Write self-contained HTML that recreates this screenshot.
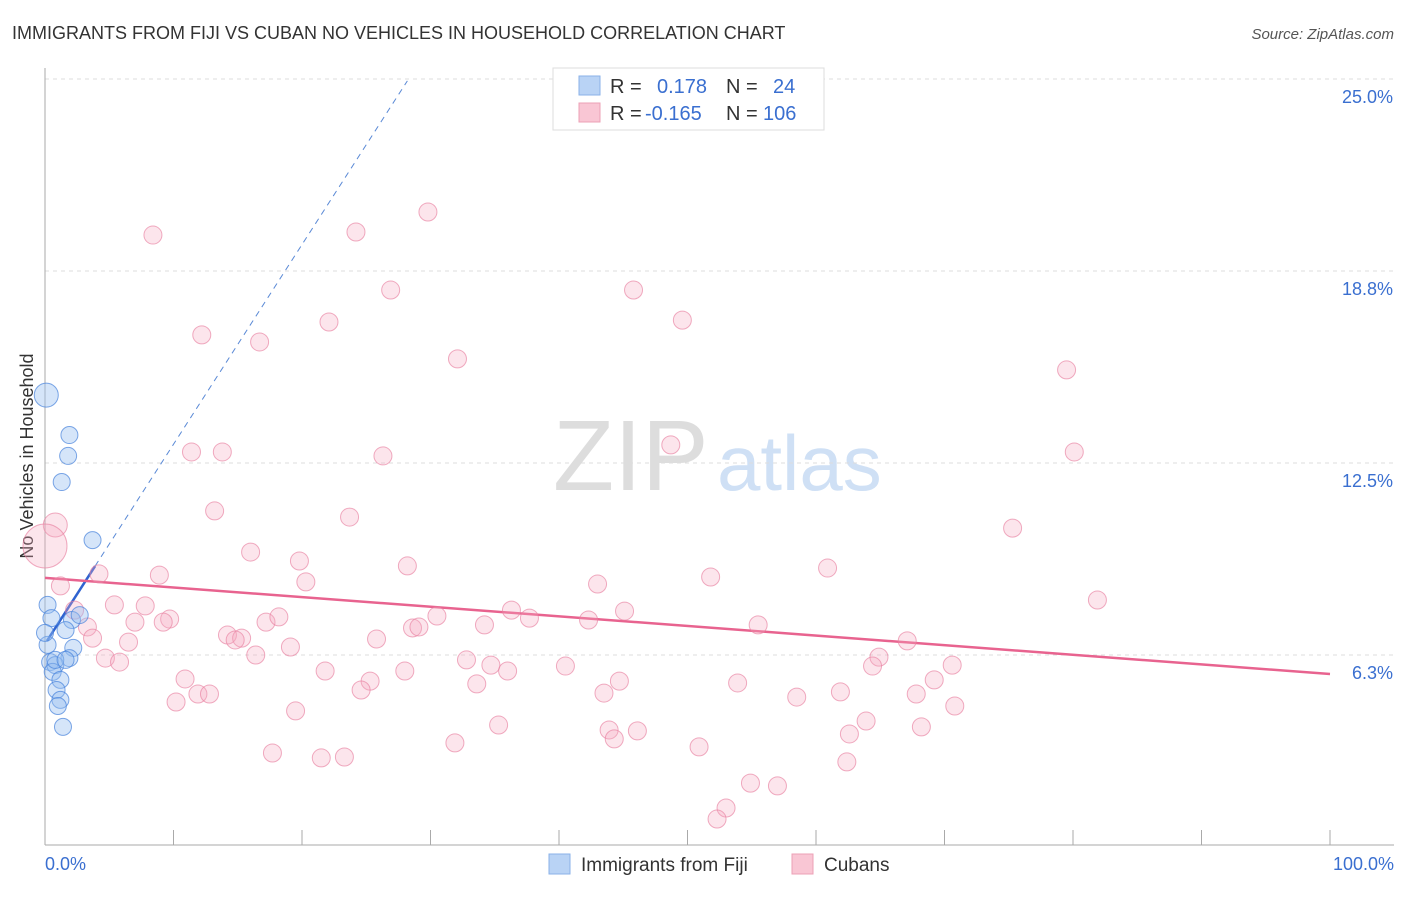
<!DOCTYPE html>
<html><head><meta charset="utf-8"><style>
body{margin:0;background:#fff;font-family:"Liberation Sans",sans-serif}
svg text{font-family:"Liberation Sans",sans-serif}
</style></head><body>
<svg id="chart" width="1406" height="892" xmlns="http://www.w3.org/2000/svg">
<text x="12" y="39" font-size="18" fill="#333">IMMIGRANTS FROM FIJI VS CUBAN NO VEHICLES IN HOUSEHOLD CORRELATION CHART</text>
<text x="1394" y="39" font-size="15" fill="#555" font-style="italic" text-anchor="end">Source: ZipAtlas.com</text>
<g>
<text x="553" y="490" font-size="100" font-family="Liberation Serif,serif" fill="#ddd">ZIP</text>
<text x="717" y="490" font-size="78" fill="#cfe0f5">atlas</text>
</g>
<g id="grid"></g>
<g id="axes"></g>
<text transform="translate(33,456) rotate(-90)" font-size="18" fill="#333" text-anchor="middle">No Vehicles in Household</text>
<g id="lines"></g>
<g id="points"></g>
<g>
<rect x="553" y="68" width="271" height="62" fill="#fff" stroke="#ddd"/>
<rect x="579" y="76" width="21" height="19" fill="#b9d3f5" stroke="#8ab2e8"/>
<rect x="579" y="103" width="21" height="19" fill="#f9c6d4" stroke="#eca0b6"/>
<text x="610" y="93" font-size="20" fill="#333">R =</text><text x="657" y="93" font-size="20" fill="#3a6fd0">0.178</text>
<text x="726" y="93" font-size="20" fill="#333">N =</text><text x="773" y="93" font-size="20" fill="#3a6fd0">24</text>
<text x="610" y="120" font-size="20" fill="#333">R =</text><text x="645" y="120" font-size="20" fill="#3a6fd0">-0.165</text>
<text x="726" y="120" font-size="20" fill="#333">N =</text><text x="763" y="120" font-size="20" fill="#3a6fd0">106</text>
</g>
<g>
<rect x="549" y="854" width="21" height="20" fill="#b9d3f5" stroke="#8ab2e8"/>
<text x="581" y="871" font-size="19" fill="#333">Immigrants from Fiji</text>
<rect x="792" y="854" width="21" height="20" fill="#f9c6d4" stroke="#eca0b6"/>
<text x="824" y="871" font-size="19" fill="#333">Cubans</text>
</g>
</svg>
<script>
const yTicks=[25,18.75,12.5,6.25];
const yTickLabels=["25.0%","18.8%","12.5%","6.3%"];
const xTickLabels=["0.0%","100.0%"];
const fijiX=[0.1,1.9,1.8,1.3,3.7,0.2,0.5,2.1,1.6,0.2,2.2,1.9,0.4,0.8,0.6,1.2,0.9,1.2,1.0,1.4,0,0.8,1.6,2.7];
const fijiY=[14.71,13.41,12.73,11.88,9.99,7.88,7.45,7.39,7.06,6.58,6.48,6.15,6.02,5.92,5.70,5.44,5.11,4.79,4.59,3.91,6.97,6.09,6.09,7.55];
const cubaX=[8.4,29.8,24.2,26.9,45.8,49.6,22.1,12.2,16.7,32.1,79.5,11.4,13.8,26.3,48.7,80.1,13.2,23.7,75.3,16.0,19.8,8.9,4.2,28.2,51.8,60.9,43.0,20.3,1.2,81.9,7.8,5.4,36.3,45.1,30.5,2.3,9.7,9.2,17.2,18.2,7.0,37.7,42.3,34.2,28.6,29.1,55.5,3.3,14.2,15.3,14.8,25.8,3.7,6.5,19.1,67.1,16.4,4.7,5.8,32.8,34.7,40.5,64.9,64.4,70.6,21.8,28.0,36.0,10.9,25.3,33.6,44.7,53.9,69.2,24.6,11.9,12.8,43.5,61.9,67.8,58.5,10.2,70.8,19.5,63.9,35.3,68.2,43.9,46.1,62.6,44.3,31.9,50.9,17.7,21.5,23.3,62.4,54.9,57.0,53.0,52.3,0.8,0];
const cubaY=[19.92,20.67,20.02,18.13,18.13,17.15,17.09,16.67,16.44,15.89,15.53,12.86,12.86,12.73,13.09,12.86,10.94,10.74,10.38,9.60,9.31,8.85,8.89,9.15,8.79,9.08,8.56,8.63,8.50,8.04,7.85,7.88,7.71,7.68,7.52,7.71,7.42,7.32,7.32,7.49,7.32,7.45,7.39,7.23,7.13,7.16,7.23,7.16,6.90,6.80,6.74,6.77,6.80,6.67,6.51,6.71,6.25,6.15,6.02,6.09,5.92,5.89,6.18,5.89,5.92,5.73,5.73,5.73,5.47,5.40,5.31,5.40,5.34,5.44,5.11,4.98,4.98,5.01,5.05,4.98,4.88,4.72,4.59,4.43,4.10,3.97,3.91,3.81,3.78,3.68,3.52,3.39,3.26,3.06,2.90,2.93,2.77,2.08,1.99,1.27,0.91,10.48,9.80];
const fijiTrend=[6.61,0.65];
const cubaTrend=[8.76,-0.0313];
const NS="http://www.w3.org/2000/svg";
const xs=v=>45+v*12.85, ys=v=>847-v*30.72;
function mk(tag,attrs,parent){const e=document.createElementNS(NS,tag);for(const k in attrs)e.setAttribute(k,attrs[k]);document.getElementById(parent).appendChild(e);return e;}
yTicks.forEach((t,i)=>{
 const g=mk('line',{x1:45,x2:1394,y1:ys(t),y2:ys(t),stroke:'#ddd','stroke-dasharray':'4,4'},'grid');
 
 
 const l=mk('text',{x:1393,y:ys(t)+24,'font-size':18,fill:'#3a6fd0','text-anchor':'end'},'grid');
 l.textContent=yTickLabels[i];
 
 
});
mk('line',{x1:45,x2:45,y1:68,y2:845,stroke:'#aaa'},'axes');
mk('line',{x1:45,x2:1394,y1:845,y2:845,stroke:'#aaa'},'axes');
for(let k=0;k<=10;k++){const t=mk('line',{x1:xs(k*10),x2:xs(k*10),y1:830,y2:845,stroke:'#aaa'},'axes');
 
 }
[[0,'start',45],[100,'end',1394]].forEach((a,i)=>{const l=mk('text',{x:a[2],y:870,'font-size':18,fill:'#3a6fd0','text-anchor':a[1]},'axes');l.textContent=xTickLabels[i];
 
 });
// points
cubaX.forEach((x,i)=>{const big=i===cubaX.length-1?22:(i===cubaX.length-2?12:9);
 const c=mk('circle',{cx:xs(x),cy:ys(cubaY[i]),r:big,fill:'rgba(246,168,192,0.3)',stroke:'rgba(232,128,160,0.65)','stroke-width':1},'points');
 
 });
fijiX.forEach((x,i)=>{const c=mk('circle',{cx:xs(x),cy:ys(fijiY[i]),r:i===0?12:8.5,fill:'rgba(150,190,240,0.4)',stroke:'rgba(70,130,220,0.7)','stroke-width':1},'points');
 
 });
// trend lines
const fd=mk('line',{x1:xs(3.9),y1:ys(fijiTrend[0]+fijiTrend[1]*3.9),x2:xs(28.2),y2:ys(fijiTrend[0]+fijiTrend[1]*28.2),stroke:'#5b8ad6','stroke-dasharray':'6,5'},'lines');


const fl=mk('line',{x1:xs(0.15),y1:ys(fijiTrend[0]+fijiTrend[1]*0.15),x2:xs(3.9),y2:ys(fijiTrend[0]+fijiTrend[1]*3.9),stroke:'#2f63d0','stroke-width':2.5},'lines');


const cl=mk('line',{x1:xs(0),y1:ys(cubaTrend[0]),x2:xs(100),y2:ys(cubaTrend[0]+cubaTrend[1]*100),stroke:'#e8638f','stroke-width':2.5},'lines');


</script>
</body></html>
